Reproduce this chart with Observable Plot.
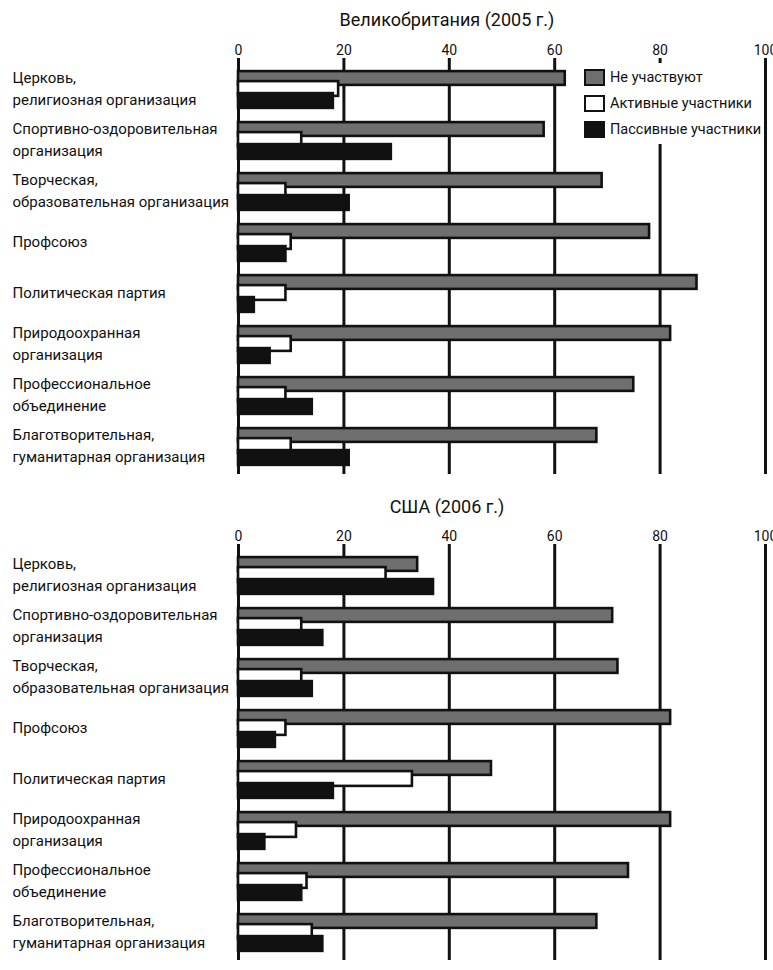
<!DOCTYPE html>
<html><head><meta charset="utf-8">
<script src="https://cdn.jsdelivr.net/npm/d3@7"></script>
<script src="https://cdn.jsdelivr.net/npm/@observablehq/plot@0.6"></script>
<style>
body{margin:0;background:#fff;font-family:Roboto,"Open Sans",sans-serif;color:#111;}
#wrap{position:relative;width:773px;height:970px;overflow:hidden;}
.title{position:absolute;left:247px;width:400px;text-align:center;font-size:18px;line-height:22px;}
.panel{position:absolute;left:0;width:773px;}
.legend{position:absolute;left:577px;top:63px;width:186px;height:81px;background:#fff;font-size:14.5px;}
.li{position:absolute;left:7px;height:18px;display:flex;align-items:center;}
.sw{width:17px;height:13px;border:2.5px solid #111;margin-right:5px;}
.lt{white-space:nowrap;}
</style></head>
<body><div id="wrap">
<div class="title" style="top:9px">Великобритания (2005 г.)</div>
<div class="panel" id="p1" style="top:35px"></div>
<div class="legend" id="leg"></div>
<div class="title" style="top:496px">США (2006 г.)</div>
<div class="panel" id="p2" style="top:521px"></div>
</div>
<script>
const categories = [
  "Церковь,\nрелигиозная организация",
  "Спортивно-оздоровительная\nорганизация",
  "Творческая,\nобразовательная организация",
  "Профсоюз",
  "Политическая партия",
  "Природоохранная\nорганизация",
  "Профессиональное\nобъединение",
  "Благотворительная,\nгуманитарная организация"
];
const seriesNames = ["Не участвуют", "Активные участники", "Пассивные участники"];
const seriesFills = ["#6f6f6f", "#ffffff", "#111111"];
const xTicks = [0, 20, 40, 60, 80, 100];

const ukNot     = [62, 58, 69, 78, 87, 82, 75, 68];
const ukActive  = [19, 12,  9, 10,  9, 10,  9, 10];
const ukPassive = [18, 29, 21,  9,  3,  6, 14, 21];

const usNot     = [34, 71, 72, 82, 48, 82, 74, 68];
const usActive  = [28, 12, 12,  9, 33, 11, 13, 14];
const usPassive = [37, 16, 14,  7, 18,  5, 12, 16];

function panel(notV, actV, pasV) {
  const rows = categories.map((c, i) => ({cat: c, not: notV[i], act: actV[i], pas: pasV[i]}));
  const yRange = [26, 439];
  const step = (yRange[1] - yRange[0]) / categories.length;
  const sw = 2.6;
  const ins = (t, b) => ({insetTop: t + sw / 2, insetBottom: step - b + sw / 2});
  return Plot.plot({
    width: 773, height: 445,
    marginLeft: 238, marginRight: 8, marginTop: 23, marginBottom: 6,
    style: {fontFamily: "Roboto, 'Open Sans', sans-serif", fontSize: "14px", color: "#111", background: "#fff", overflow: "visible"},
    x: {domain: [0, 100], axis: "top", ticks: xTicks, tickSize: 0, tickPadding: 4, label: null},
    y: {domain: categories, range: yRange, padding: 0, axis: null},
    marks: [
      Plot.ruleX(xTicks, {stroke: "#111", strokeWidth: 3}),
      Plot.barX(rows, {y: "cat", x: "not", fill: seriesFills[0], stroke: "#111", strokeWidth: sw, ...ins(5.8, 22.8)}),
      Plot.barX(rows, {y: "cat", x: "act", fill: seriesFills[1], stroke: "#111", strokeWidth: sw, ...ins(15.8, 33.8)}),
      Plot.barX(rows, {y: "cat", x: "pas", fill: seriesFills[2], stroke: "#111", strokeWidth: sw, ...ins(27.8, 45.8)}),
      Plot.text(rows, {y: "cat", text: "cat", frameAnchor: "left", textAnchor: "start", dx: 12 - 238, dy: -3.5, lineHeight: 1.47, fontSize: 15, fill: "#111"})
    ]
  });
}

document.getElementById("p1").appendChild(panel(ukNot, ukActive, ukPassive));
document.getElementById("p2").appendChild(panel(usNot, usActive, usPassive));

const leg = document.getElementById("leg");
const legTops = [5, 31, 57];
seriesNames.forEach((n, i) => {
  const d = document.createElement("div");
  d.className = "li";
  d.style.top = legTops[i] + "px";
  d.innerHTML = `<div class="sw" style="background:${seriesFills[i]}"></div><span class="lt">${n}</span>`;
  leg.appendChild(d);
});
</script>
</body></html>
